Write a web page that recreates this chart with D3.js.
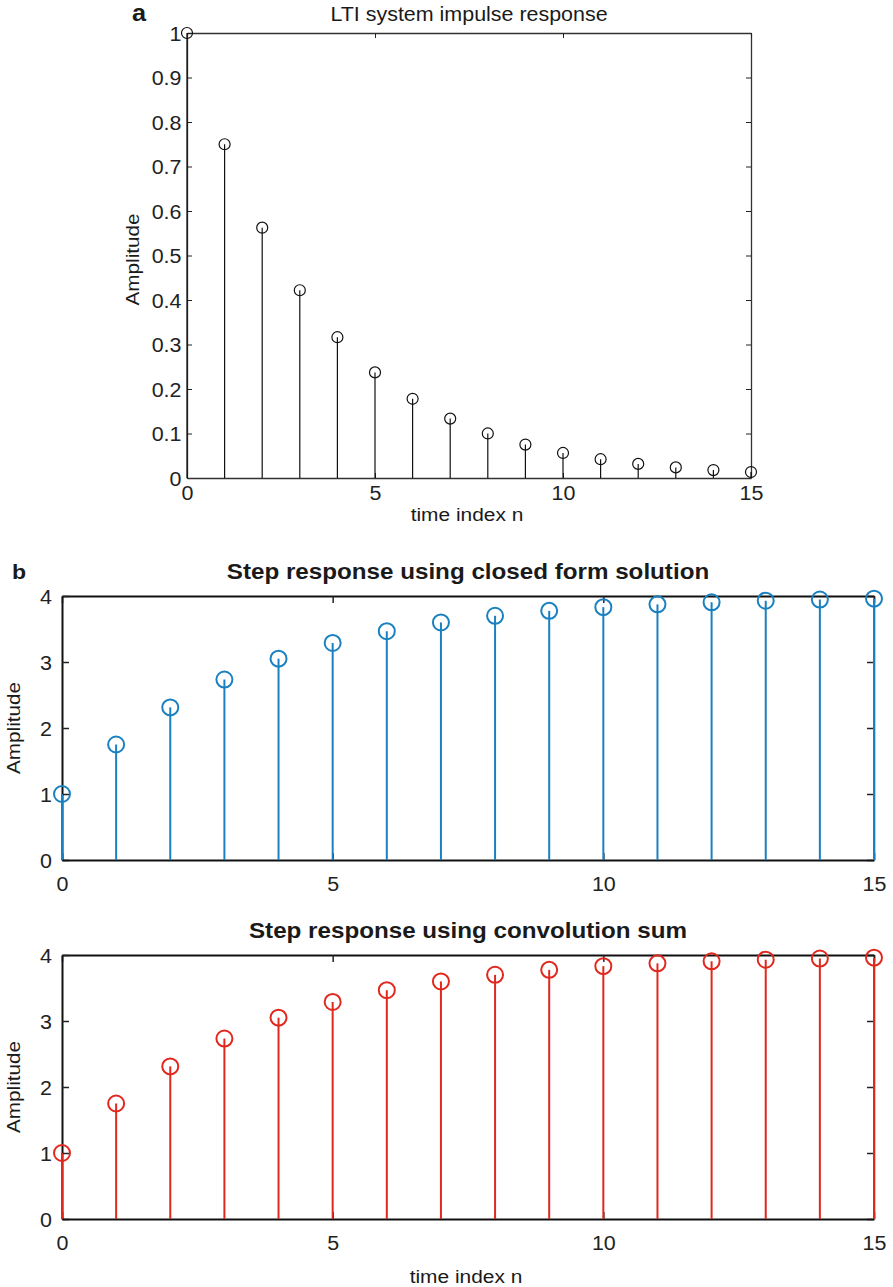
<!DOCTYPE html>
<html>
<head>
<meta charset="utf-8">
<script src="https://cdn.jsdelivr.net/npm/d3@7"></script>
<style>
  body { margin: 0; background: #fff; }
  svg { display: block; font-family: "Liberation Sans", Arial, Helvetica, sans-serif; }
</style>
</head>
<body>
<svg id="fig" width="893" height="1287"></svg>
<script>
// Sample index shared by all three stem plots
const timeIndex = [0, 1, 2, 3, 4, 5, 6, 7, 8, 9, 10, 11, 12, 13, 14, 15];

// h[n] of the LTI system
const impulseResponse = [1.0, 0.75, 0.5625, 0.4219, 0.3164, 0.2373, 0.1780, 0.1335,
  0.1001, 0.0751, 0.0563, 0.0422, 0.0317, 0.0238, 0.0178, 0.0134];

// Step response from the closed form expression
const stepClosedForm = [1.0, 1.75, 2.3125, 2.7344, 3.0508, 3.2881, 3.4661, 3.5996,
  3.6997, 3.7748, 3.8311, 3.8733, 3.9050, 3.9288, 3.9466, 3.9600];

// Step response from the convolution sum
const stepConvolution = [1.0, 1.75, 2.3125, 2.7344, 3.0508, 3.2881, 3.4661, 3.5996,
  3.6997, 3.7748, 3.8311, 3.8733, 3.9050, 3.9288, 3.9466, 3.9600];

const xTicks = [0, 5, 10, 15];
const yTicksA = [0, 0.1, 0.2, 0.3, 0.4, 0.5, 0.6, 0.7, 0.8, 0.9, 1];
const yTicksB = [0, 1, 2, 3, 4];

// text is drawn slightly wide, like the exported figure
const SX = 1.1;

const svg = d3.select("#fig");

function label(parent, x, y, txt, opts) {
  const t = parent.append("text")
    .attr("transform", `translate(${x},${y}) ${opts.rotate ? "rotate(-90)" : `scale(${SX},1)`}`)
    .attr("text-anchor", opts.anchor || "middle")
    .style("font-size", opts.size + "px")
    .style("font-weight", opts.weight || "normal")
    .attr("fill", opts.fill || "#1a1a1a")
    .text(txt);
  if (opts.length) t.attr("textLength", opts.length).attr("lengthAdjust", "spacingAndGlyphs");
  return t;
}

function stemPanel(cfg) {
  const x = d3.scaleLinear().domain([0, 15]).range([cfg.left, cfg.right]);
  const y = d3.scaleLinear().domain(cfg.yDomain).range([cfg.bottom, cfg.top]);
  const g = svg.append("g");
  const tl = cfg.tickLen;

  // frame: mirror ticks on all four sides, pointing inward
  const axL = d3.axisLeft(y).tickValues(cfg.yTicks).tickSizeInner(-tl).tickSizeOuter(0)
    .tickPadding(cfg.yPad / SX).tickFormat(cfg.yFmt);
  const axB = d3.axisBottom(x).tickValues(xTicks).tickSizeInner(-tl).tickSizeOuter(0)
    .tickPadding(cfg.xPad).tickFormat(d3.format("d"));
  const axR = d3.axisRight(y).tickValues(cfg.yTicks).tickSizeInner(-tl).tickSizeOuter(0).tickFormat("");
  const axT = d3.axisTop(x).tickValues(xTicks).tickSizeInner(-tl).tickSizeOuter(0).tickFormat("");

  const gR = g.append("g").attr("transform", `translate(${cfg.right},0)`).call(axR);
  const gT = g.append("g").attr("transform", `translate(0,${cfg.top})`).call(axT);
  const gL = g.append("g").attr("transform", `translate(${cfg.left},0)`).call(axL);
  const gB = g.append("g").attr("transform", `translate(0,${cfg.bottom})`).call(axB);

  [gL, gB, gT, gR].forEach(a => {
    a.select(".domain").attr("stroke", cfg.axisColor).attr("stroke-width", cfg.axisWidth);
    a.selectAll(".tick line").attr("stroke", "#222").attr("stroke-width", cfg.tickWidth);
    a.selectAll(".tick text").attr("fill", "#222").style("font-size", cfg.tickFont + "px")
      .attr("transform", `scale(${SX},1)`);
  });
  gR.select(".domain").attr("stroke", cfg.rightColor);
  gL.selectAll(".tick text").attr("dy", "0.36em");

  // stems and circle heads
  const pts = timeIndex.map((n, i) => ({ n, v: cfg.values[i] }));
  g.append("g").selectAll("line").data(pts).join("line")
    .attr("x1", d => x(d.n)).attr("x2", d => x(d.n))
    .attr("y1", y(0)).attr("y2", d => y(d.v))
    .attr("stroke", cfg.color).attr("stroke-width", cfg.stemWidth);
  g.append("g").selectAll("circle").data(pts).join("circle")
    .attr("cx", d => x(d.n)).attr("cy", d => y(d.v)).attr("r", cfg.r)
    .attr("fill", "none").attr("stroke", cfg.color).attr("stroke-width", cfg.markerWidth);

  // title and axis labels
  const cx = (cfg.left + cfg.right) / 2;
  label(g, cx, cfg.titleY, cfg.title, { size: cfg.titleFont, weight: cfg.titleWeight });
  label(g, cfg.yLabelX, (cfg.top + cfg.bottom) / 2 + cfg.yLabelShift, "Amplitude",
    { size: cfg.labelFont, rotate: true, length: 92 });
  if (cfg.xLabelY) label(g, cx - 2, cfg.xLabelY, "time index n", { size: cfg.labelFont });
  if (cfg.letter) label(g, cfg.letter.x, cfg.letter.y, cfg.letter.t,
    { size: cfg.letter.size, weight: "bold", anchor: "start" });
}

stemPanel({
  left: 187, right: 751, top: 33, bottom: 478, yDomain: [0, 1],
  yTicks: yTicksA, yFmt: d3.format("~g"), yPad: 5.5, xPad: 8,
  tickLen: 5, tickWidth: 1, axisWidth: 1.3, axisColor: "#333", rightColor: "#333",
  tickFont: 19.5, values: impulseResponse, color: "#111", stemWidth: 1.2,
  r: 5.5, markerWidth: 1.2,
  title: "LTI system impulse response", titleY: 21, titleFont: 19.5, titleWeight: "normal",
  yLabelX: 139, yLabelShift: 4, labelFont: 19, xLabelY: 521,
  letter: { x: 132, y: 21, t: "a", size: 23 }
});

stemPanel({
  left: 62, right: 874, top: 596, bottom: 860, yDomain: [0, 4],
  yTicks: yTicksB, yFmt: d3.format("d"), yPad: 10, xPad: 17,
  tickLen: 7, tickWidth: 1.5, axisWidth: 2, axisColor: "#111", rightColor: "#999",
  tickFont: 19.5, values: stepClosedForm, color: "#1a80c0", stemWidth: 2,
  r: 8, markerWidth: 2,
  title: "Step response using closed form solution", titleY: 579, titleFont: 22, titleWeight: "bold",
  yLabelX: 20, yLabelShift: 0, labelFont: 19, xLabelY: null,
  letter: { x: 12, y: 579, t: "b", size: 21 }
});

stemPanel({
  left: 62, right: 874, top: 955, bottom: 1219, yDomain: [0, 4],
  yTicks: yTicksB, yFmt: d3.format("d"), yPad: 10, xPad: 17,
  tickLen: 7, tickWidth: 1.5, axisWidth: 2, axisColor: "#111", rightColor: "#999",
  tickFont: 19.5, values: stepConvolution, color: "#e0281e", stemWidth: 2,
  r: 8, markerWidth: 2,
  title: "Step response using convolution sum", titleY: 938, titleFont: 22, titleWeight: "bold",
  yLabelX: 20, yLabelShift: 0, labelFont: 19, xLabelY: 1283,
  letter: null
});
</script>
</body>
</html>
